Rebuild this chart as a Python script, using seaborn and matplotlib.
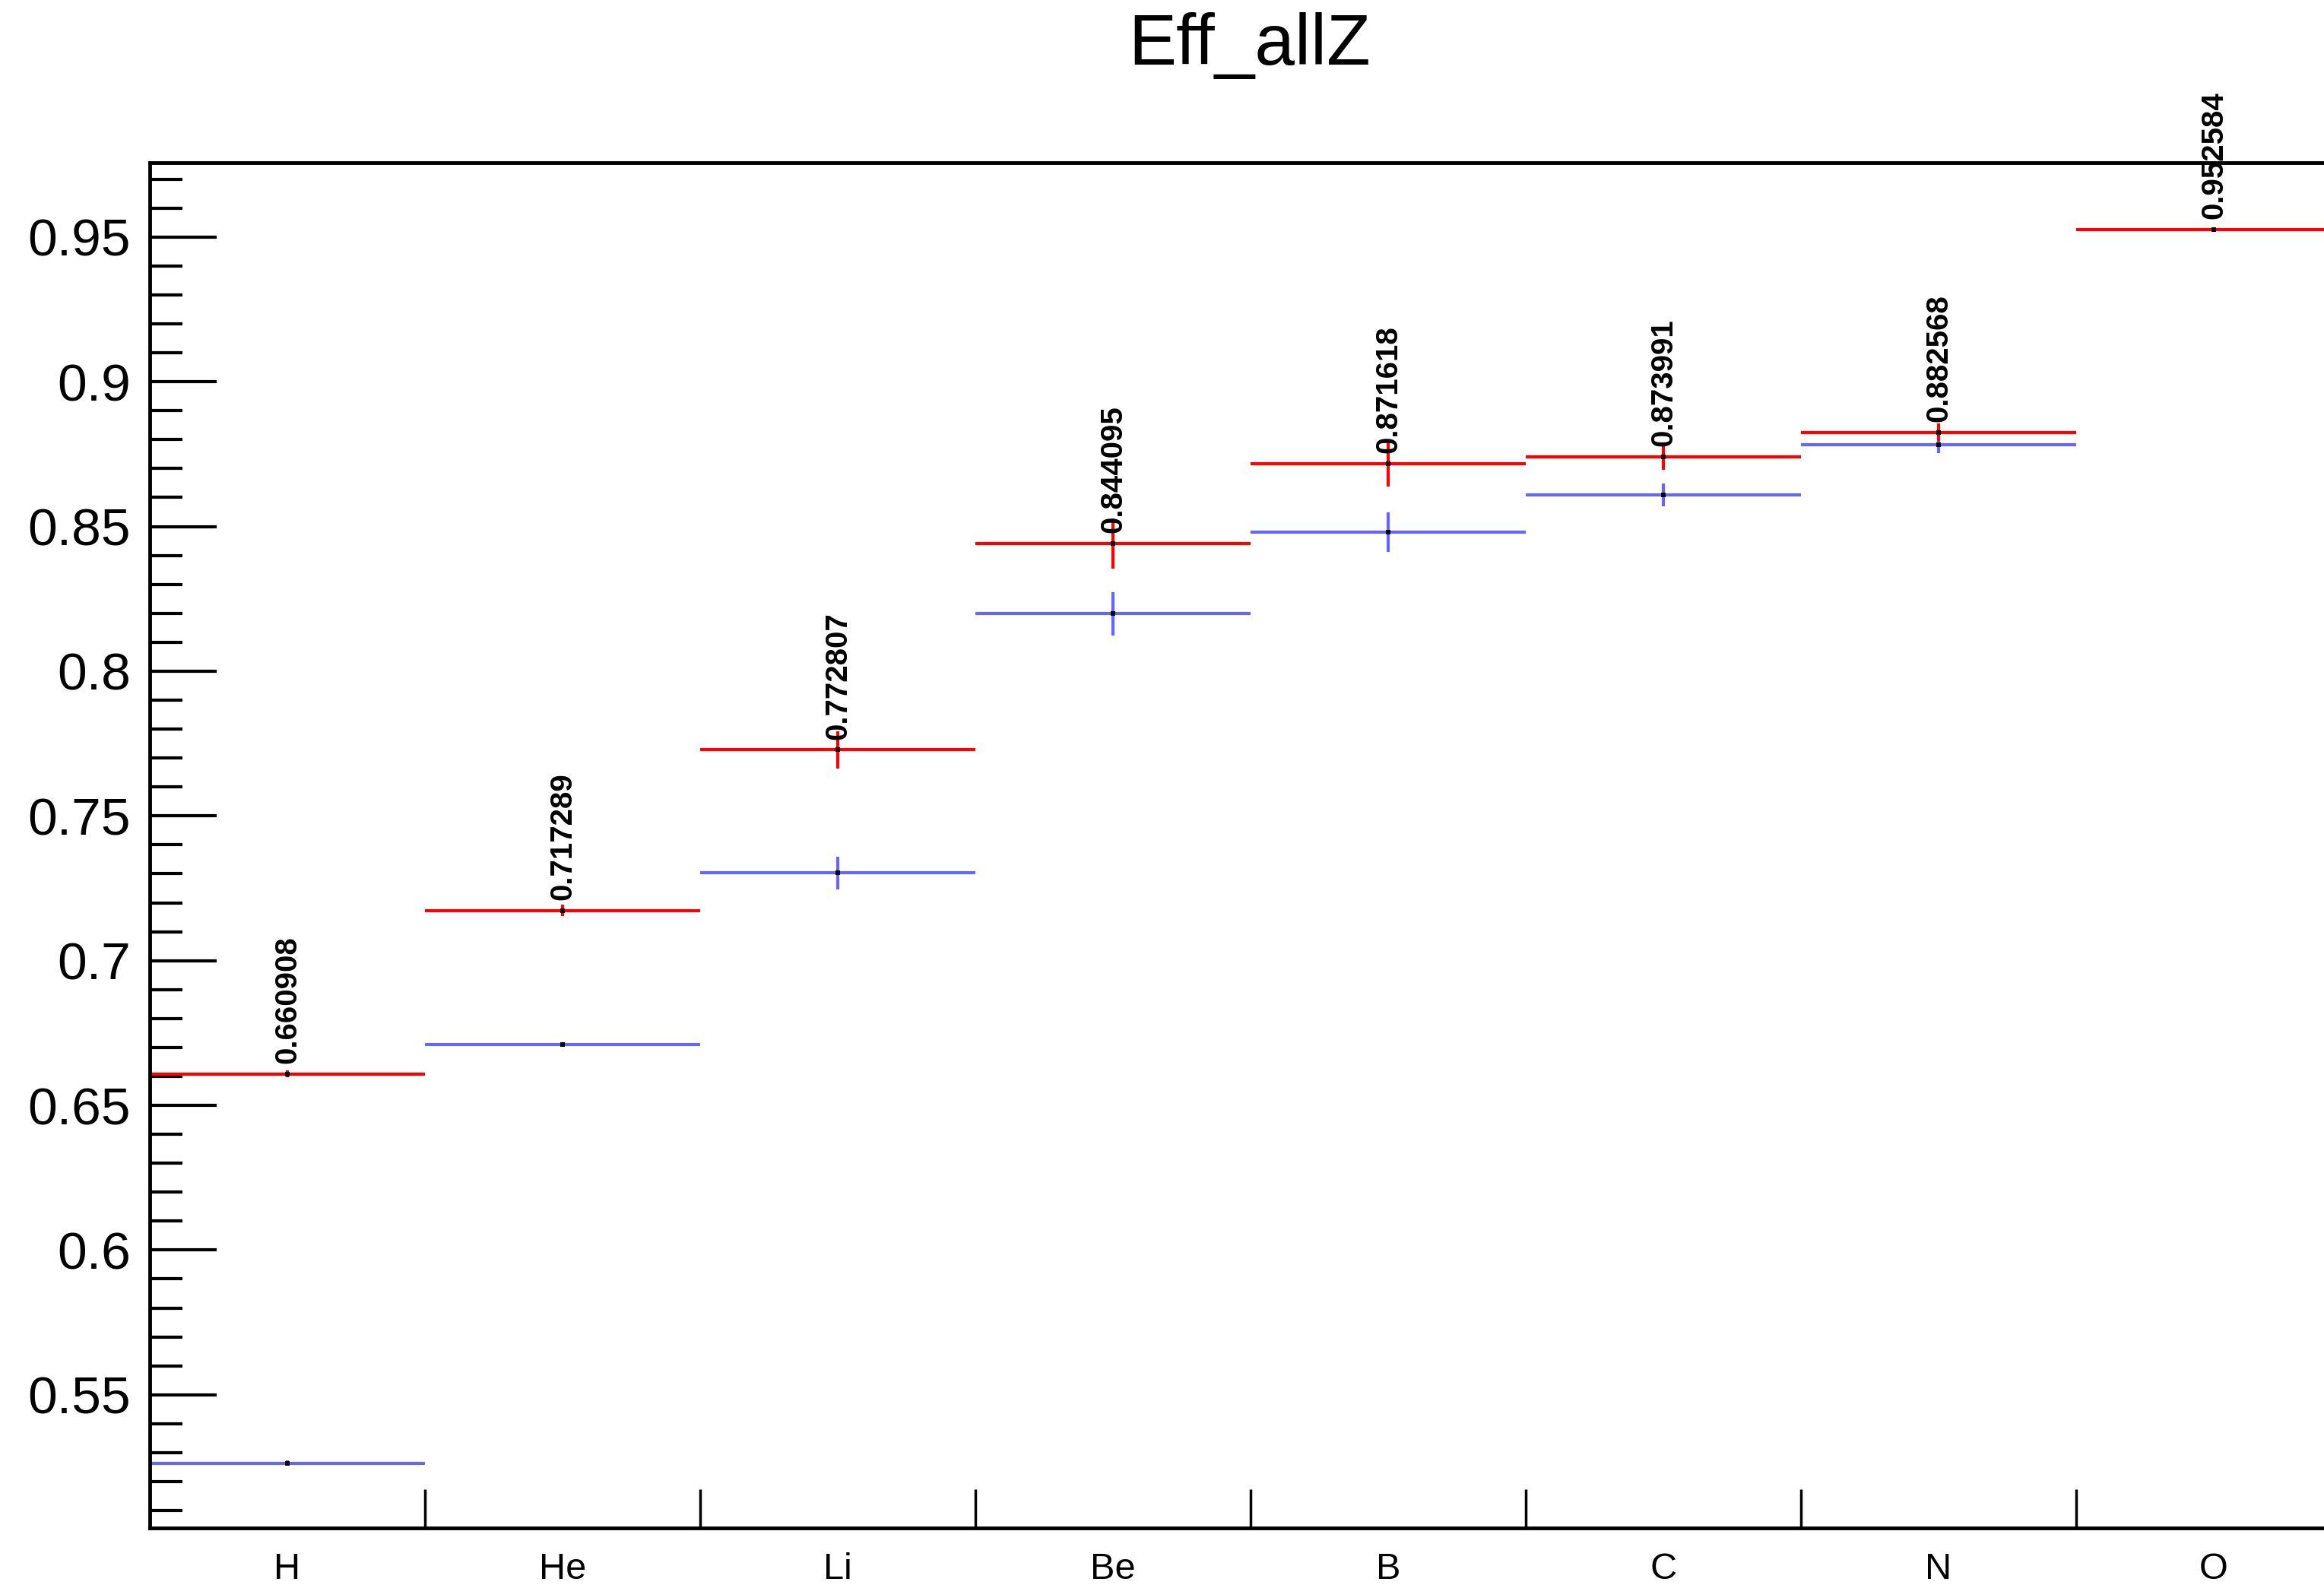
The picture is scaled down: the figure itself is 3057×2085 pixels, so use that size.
import numpy as np
import pandas as pd
import seaborn as sns
import matplotlib.pyplot as plt

# bins along x (one per element) and the two efficiency series
elements = ["H", "He", "Li", "Be", "B", "C", "N", "O"]
eff_red = [0.660908, 0.717289, 0.772807, 0.844095, 0.871618, 0.873991, 0.882568, 0.952584]
err_red = [0.0013, 0.0020, 0.0065, 0.0087, 0.0079, 0.0045, 0.0030, 0.0]
eff_blue = [0.5264, 0.6709, 0.7303, 0.8199, 0.8481, 0.8609, 0.8783, np.nan]
err_blue = [0.0010, 0.0006, 0.0057, 0.0075, 0.0068, 0.0040, 0.0030, 0.0]

sns.set_style("ticks")
plt.rcParams["font.family"] = ["Liberation Sans", "DejaVu Sans"]
plt.rcParams["text.color"] = "black"
plt.rcParams["xtick.color"] = "black"
plt.rcParams["ytick.color"] = "black"
plt.rcParams["axes.labelcolor"] = "black"

centers = np.arange(len(elements)) + 0.5
df = pd.DataFrame({"bin": centers, "red": eff_red, "blue": eff_blue})

fig = plt.figure(figsize=(30.57, 20.85), dpi=100)
ax = fig.add_axes([0.0644, 0.036, 0.9474, 0.8614])

# blue first, red drawn on top
ax.errorbar(df["bin"], df["blue"], xerr=0.5, yerr=err_blue, fmt="none",
            ecolor="#6666ff", elinewidth=3, capsize=0)
ax.errorbar(df["bin"], df["red"], xerr=0.5, yerr=err_red, fmt="none",
            ecolor="#ff0000", elinewidth=3, capsize=0)

long_df = df.melt(id_vars="bin", value_vars=["blue", "red"], var_name="series", value_name="eff").dropna()
sns.scatterplot(data=long_df, x="bin", y="eff", marker="s", color="black",
                s=20, linewidth=0, ax=ax, legend=False, zorder=5)

# value labels above red points, rotated like ROOT's TEXT90
for xc, v in zip(centers, eff_red):
    ax.annotate(f"{v:g}", (xc, v), xytext=(0, 10), textcoords="offset points",
                rotation=90, ha="center", va="bottom", fontsize=29,
                fontweight="bold", color="black")

ax.set_xlim(0, len(elements))
ax.set_ylim(0.504, 0.9757)

ax.set_xticks(centers)
ax.set_xticklabels(elements)
ax.set_xticks(np.arange(1, len(elements)), minor=True)
ax.tick_params(axis="x", which="major", length=0, labelsize=35, pad=23, labelcolor="black")
ax.tick_params(axis="x", which="minor", length=37, width=2.5, direction="in", color="black")

ax.set_yticks(np.arange(0.55, 0.951, 0.05))
ax.set_yticklabels(["0.55", "0.6", "0.65", "0.7", "0.75", "0.8", "0.85", "0.9", "0.95"])
ax.set_yticks(np.arange(0.51, 0.975, 0.01), minor=True)
ax.tick_params(axis="y", which="major", length=63, width=3, direction="in",
               labelsize=50, pad=18, color="black", labelcolor="black")
ax.tick_params(axis="y", which="minor", length=31, width=3, direction="in", color="black")

for side in ["left", "bottom", "top", "right"]:
    ax.spines[side].set_visible(True)
    ax.spines[side].set_linewidth(3.5)
    ax.spines[side].set_color("black")

ax.set_xlabel("")
ax.set_ylabel("")

fig.text(0.5378, 0.971, "Eff_allZ", ha="center", va="center", fontsize=68, color="black")

fig.savefig("out.png", dpi=100)
